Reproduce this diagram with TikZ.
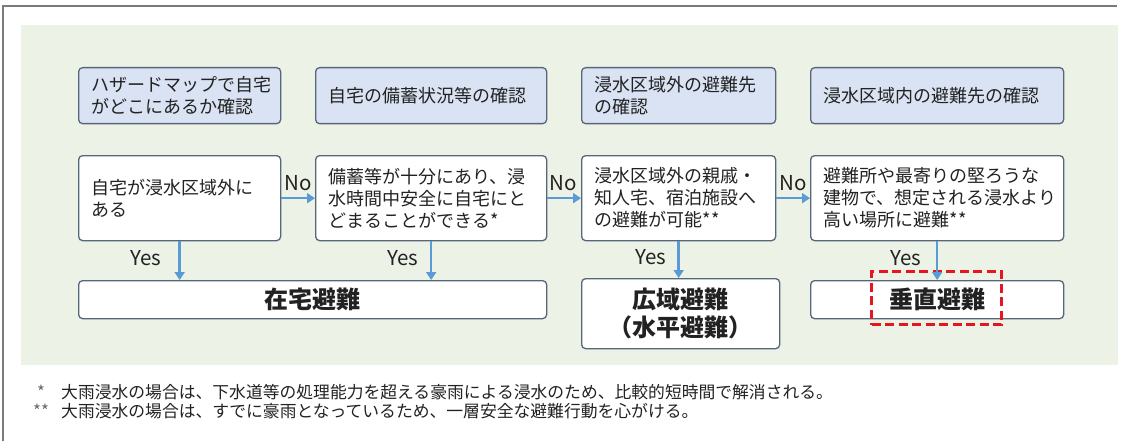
\documentclass[tikz,border=0pt]{standalone}
\usepackage{fontspec}
\setmainfont{Noto Sans CJK JP}
\usetikzlibrary{arrows.meta,calc}
\definecolor{bgGreen}{HTML}{EDF2E6}
\definecolor{boxBlue}{HTML}{DAE3F3}
\definecolor{boxLine}{HTML}{56677A}
\definecolor{arrowBlue}{HTML}{5B9BD5}
\definecolor{redDash}{HTML}{E5161D}
\definecolor{frameGray}{HTML}{7A7A7A}
\definecolor{txt}{HTML}{222222}
\definecolor{starGray}{HTML}{666666}
\begin{document}
\begin{tikzpicture}[x=1pt,y=-1pt,
  basebox/.style={draw=boxLine, line width=1.3pt, rounded corners=4pt, anchor=north west,
    inner xsep=13pt, inner ysep=0pt, align=left, text=txt,
    font=\fontsize{18}{22}\selectfont},
  topbox/.style={basebox, fill=boxBlue, minimum height=56pt},
  decbox/.style={basebox, fill=white, minimum height=85pt},
  resbox/.style={draw=boxLine, line width=1.3pt, rounded corners=4pt, anchor=north west,
    fill=white, inner sep=0pt, align=center, text=txt,
    font=\fontsize{24}{28}\selectfont\bfseries},
  hlbox/.style={draw=redDash, line width=3pt, dash pattern=on 9pt off 4.5pt, anchor=north west,
    inner sep=0pt},
  arr/.style={draw=arrowBlue, line width=2.6pt, -{Triangle[length=8pt,width=10pt]}},
  lbl/.style={inner sep=0pt, text=txt, font=\fontsize{20.5}{22}\selectfont},
  fn/.style={inner sep=0pt, anchor=west, text=txt, font=\fontsize{16.8}{19}\selectfont},
  fnstar/.style={fn, text=starGray}
]
\useasboundingbox (0,0) rectangle (1126,441);
\fill[white] (0,0) rectangle (1126,441);
\draw[frameGray, line width=1.2pt] (3,441) -- (3,6) -- (1117,6);
\fill[bgGreen] (21,25) rectangle (1118,365);

% top check boxes
\node[topbox, minimum width=202pt, text width=176pt] (T1) at (78,67) {ハザードマップで自宅\\がどこにあるか確認};
\node[topbox, minimum width=231pt, text width=205pt] (T2) at (315,67) {自宅の備蓄状況等の確認};
\node[topbox, minimum width=194pt, text width=168pt] (T3) at (581,67) {浸水区域外の避難先\\の確認};
\node[topbox, minimum width=253pt, text width=227pt] (T4) at (810,67) {浸水区域内の避難先の確認};

% decision boxes
\node[decbox, minimum width=202pt, text width=176pt] (D1) at (78,155) {自宅が浸水区域外に\\ある};
\node[decbox, minimum width=231pt, text width=205pt] (D2) at (315,155) {備蓄等が十分にあり、浸\\水時間中安全に自宅にと\\どまることができる*};
\node[decbox, minimum width=194pt, text width=168pt] (D3) at (581,155) {浸水区域外の親戚・\\知人宅、宿泊施設へ\\の避難が可能**};
\node[decbox, minimum width=253pt, text width=227pt] (D4) at (810,155) {避難所や最寄りの堅ろうな\\建物で、想定される浸水より\\高い場所に避難**};

% result boxes
\node[resbox, minimum width=468pt, minimum height=38pt] (R1) at (78,280) {在宅避難};
\node[resbox, minimum width=198pt, minimum height=70pt] (R2) at (581,278) {広域避難\\（水平避難）};
\node[resbox, minimum width=253pt, minimum height=38pt] (R3) at (810,280) {垂直避難};
\node[hlbox, minimum width=130pt, minimum height=53pt] (HL) at (870,270) {};

% No arrows
\draw[arr] (D1.east) -- (D2.west);
\draw[arr] (D2.east) -- (D3.west);
\draw[arr] (D3.east) -- (D4.west);
\node[lbl] (no1) at (298,183) {No};
\node[lbl] (no2) at (563,183) {No};
\node[lbl] (no3) at (793,183) {No};

% Yes arrows
\draw[arr] (D1.south) -- (D1.south |- R1.north);
\draw[arr] (D2.south) -- (D2.south |- R1.north);
\draw[arr] (D3.south) -- (D3.south |- R2.north);
\draw[arr] (D4.south) -- (D4.south |- R3.north);
\node[lbl] (yes1) at (146,258) {Yes};
\node[lbl] (yes2) at (403,258) {Yes};
\node[lbl] (yes3) at (651,257) {Yes};
\node[lbl] (yes4) at (906,258) {Yes};

% footnotes
\node[fnstar] (fs1) at (37,392) {*};
\node[fn] (ft1) at (61,392) {大雨浸水の場合は、下水道等の処理能力を超える豪雨による浸水のため、比較的短時間で解消される。};
\node[fnstar] (fs2) at (33,411) {**};
\node[fn] (ft2) at (61,411) {大雨浸水の場合は、すでに豪雨となっているため、一層安全な避難行動を心がける。};
\end{tikzpicture}
\end{document}
